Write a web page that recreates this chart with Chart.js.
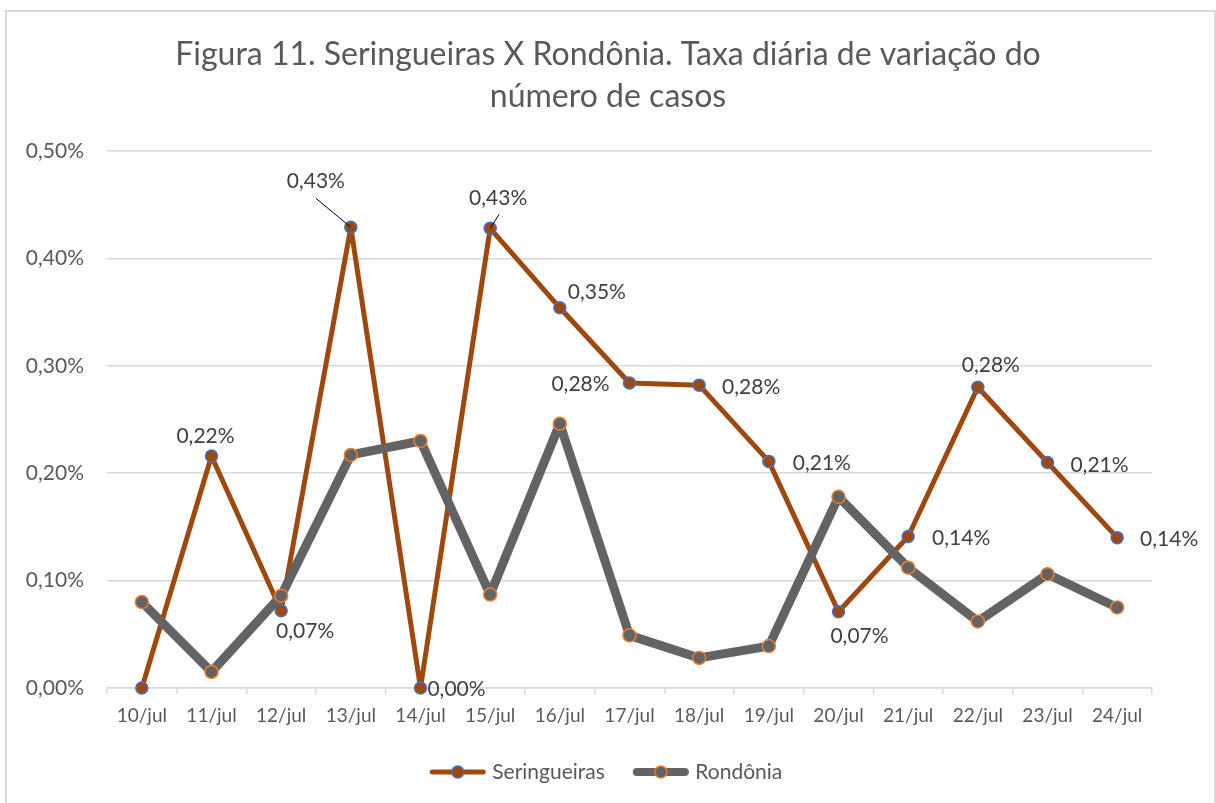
<!DOCTYPE html>
<html>
<head>
<meta charset="utf-8">
<script src="https://cdn.jsdelivr.net/npm/chart.js@4.4.1/dist/chart.umd.min.js"></script>
<style>
  html, body { margin: 0; padding: 0; background: #ffffff; overflow: hidden; }
  #wrap { position: relative; width: 1216px; height: 803px; }
  #frame { position: absolute; left: 5px; top: 10px; width: 1211px; height: 800px; box-sizing: border-box; border: 2px solid #d9d9d9; pointer-events: none; }
  canvas { position: absolute; left: 0; top: 0; }
</style>
</head>
<body>
<div id="wrap">
  <canvas id="c" width="1216" height="803"></canvas>
  <div id="frame"></div>
</div>
<script>
// ---- data ----
const categories = ["10/jul","11/jul","12/jul","13/jul","14/jul","15/jul","16/jul","17/jul","18/jul","19/jul","20/jul","21/jul","22/jul","23/jul","24/jul"];
const seringueiras = [0.000, 0.216, 0.072, 0.429, 0.000, 0.428, 0.354, 0.284, 0.282, 0.211, 0.071, 0.141, 0.280, 0.210, 0.140];
const rondonia = [0.080, 0.015, 0.086, 0.217, 0.230, 0.087, 0.246, 0.049, 0.028, 0.039, 0.178, 0.112, 0.062, 0.106, 0.075];
const yTicks = [0, 0.1, 0.2, 0.3, 0.4, 0.5];
const seriesNames = ["Seringueiras", "Rondônia"];
const titleLines = ["Figura 11. Seringueiras X Rondônia. Taxa diária de variação do", "número de casos"];

// ---- label layout (pixel offsets from point; null = no label) ----
const labelOffsets = [null, [-6,-20], [24,21], [-35,-46], [36,1], [8,-30], [37,-16], [-49,1], [52,2], [53,2], [21,24], [53,2], [13,-22], [52,3], [52,2]];
const leaderLines = {3: [0,17], 5: [1,16]};

const FONT = "Lato, Carlito, Calibri, 'Open Sans', sans-serif";
const fmtPct = v => v.toFixed(2).replace('.', ',') + '%';

function legendIcon(lineColor, lineW, fill, stroke) {
  const c = document.createElement('canvas');
  c.width = 58; c.height = 16;
  const g = c.getContext('2d');
  g.strokeStyle = lineColor; g.lineWidth = lineW; g.lineCap = 'round';
  g.beginPath(); g.moveTo(lineW/2 + 1, 8); g.lineTo(58 - lineW/2 - 1, 8); g.stroke();
  g.fillStyle = fill; g.strokeStyle = stroke; g.lineWidth = 1.5;
  g.beginPath(); g.arc(29, 8, 6, 0, Math.PI*2); g.fill(); g.stroke();
  return c;
}
const icons = [
  legendIcon('#9E480E', 5, '#9E480E', '#4472C4'),
  legendIcon('#636363', 8, '#636363', '#ED7D31')
];

const dataLabelPlugin = {
  id: 'dataLabels',
  afterDatasetsDraw(chart) {
    const meta = chart.getDatasetMeta(0);
    const ctx = chart.ctx;
    ctx.save();
    ctx.font = "21px " + FONT;
    ctx.fillStyle = '#404040';
    ctx.textAlign = 'center';
    ctx.textBaseline = 'middle';
    meta.data.forEach((pt, i) => {
      const off = labelOffsets[i];
      if (!off) return;
      const lx = pt.x + off[0], ly = pt.y + off[1];
      ctx.fillText(fmtPct(seringueiras[i]), lx, ly);
      if (leaderLines[i]) {
        const s = leaderLines[i];
        ctx.strokeStyle = '#000000';
        ctx.lineWidth = 1;
        ctx.beginPath();
        ctx.moveTo(lx + s[0], ly + s[1]);
        ctx.lineTo(pt.x, pt.y);
        ctx.stroke();
      }
    });
    ctx.restore();
  }
};

new Chart(document.getElementById('c'), {
  type: 'line',
  data: {
    labels: categories,
    datasets: [
      {
        label: seriesNames[0],
        data: seringueiras,
        borderColor: '#9E480E',
        borderWidth: 5,
        borderJoinStyle: 'round',
        borderCapStyle: 'round',
        pointBackgroundColor: '#9E480E',
        pointBorderColor: '#4472C4',
        pointBorderWidth: 1.5,
        pointRadius: 6,
        tension: 0,
        clip: false,
        order: 1
      },
      {
        label: seriesNames[1],
        data: rondonia,
        borderColor: '#636363',
        borderWidth: 9,
        borderJoinStyle: 'round',
        borderCapStyle: 'round',
        pointBackgroundColor: '#636363',
        pointBorderColor: '#ED7D31',
        pointBorderWidth: 1.5,
        pointRadius: 6.5,
        tension: 0,
        clip: false,
        order: 0
      }
    ]
  },
  options: {
    responsive: false,
    animation: false,
    layout: { padding: { left: 0, right: 0, top: 10, bottom: 10.5 } },
    scales: {
      x: {
        type: 'category',
        offset: true,
        grid: { display: true, drawOnChartArea: false, drawTicks: true, tickLength: 6, color: '#d9d9d9', lineWidth: 1.5, offset: true },
        border: { display: true, color: '#d9d9d9', width: 1.5 },
        ticks: { color: '#595959', font: { family: FONT, size: 19 }, padding: 10.5, maxRotation: 0, autoSkip: false },
        afterFit(scale) { scale.height = 41.5; }
      },
      y: {
        min: 0, max: 0.5,
        afterBuildTicks(scale) { scale.ticks = yTicks.map(v => ({ value: v })); },
        grid: { color: '#d9d9d9', lineWidth: 1.5, drawTicks: false },
        border: { display: false },
        ticks: { color: '#595959', font: { family: FONT, size: 21 }, padding: 23, callback: v => fmtPct(v) },
        afterFit(scale) { scale.width = 107; }
      },
      yRightSpace: {
        position: 'right',
        min: 0, max: 0.5,
        grid: { display: false, drawTicks: false },
        border: { display: false },
        ticks: { display: false },
        afterFit(scale) { scale.width = 64; }
      }
    },
    plugins: {
      title: {
        display: true,
        text: titleLines,
        color: '#595959',
        font: { family: FONT, size: 32, weight: 'normal', lineHeight: 42 / 32 },
        padding: { top: 24, bottom: 33 }
      },
      legend: {
        display: true,
        position: 'bottom',
        labels: {
          color: '#595959',
          font: { family: FONT, size: 21 },
          usePointStyle: true,
          pointStyleWidth: 48,
          padding: 32,
          generateLabels(chart) {
            return chart.data.datasets.map((ds, i) => ({
              text: ds.label,
              pointStyle: icons[i],
              fillStyle: ds.borderColor,
              strokeStyle: ds.borderColor,
              lineWidth: 0,
              hidden: false,
              datasetIndex: i,
              fontColor: '#595959'
            }));
          }
        }
      },
      tooltip: { enabled: false }
    }
  },
  plugins: [dataLabelPlugin]
});
</script>
</body>
</html>
